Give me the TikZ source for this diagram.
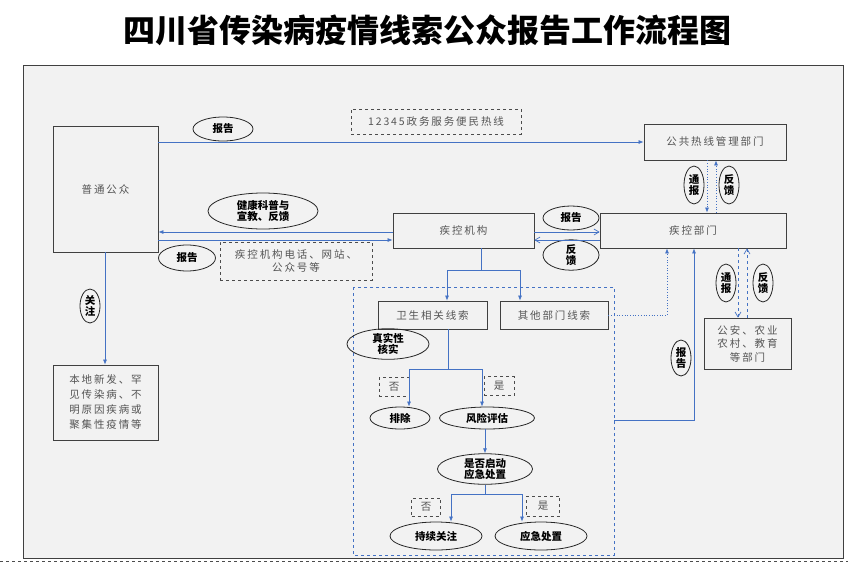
\documentclass[tikz,border=0pt]{standalone}
\usepackage{fontspec}
\setmainfont{Noto Sans CJK SC}
\newfontfamily\gapf{Noto Sans CJK SC}[LetterSpace=18]
\usetikzlibrary{arrows.meta}
\definecolor{bl}{HTML}{4472C4}
\definecolor{tx}{HTML}{555555}
\tikzset{
 box/.style={draw=black!75,line width=0.8pt,fill=none,font=\gapf\fontsize{10.5}{13.5}\selectfont,text=tx,align=center,inner sep=0},
 dbox/.style={draw=black!70,dashed,line width=0.7pt,font=\gapf\fontsize{10.5}{13.5}\selectfont,text=tx,align=center},
 el/.style={draw=black!85,ellipse,line width=0.8pt,font=\bfseries\fontsize{10.5}{11.5}\selectfont,align=center,inner sep=0},
 ar/.style={draw=bl,line width=0.7pt,-{Latex[length=5pt,width=4pt]}},
 ln/.style={draw=bl,line width=0.7pt},
 oar/.style={draw=bl,line width=0.7pt,-{Straight Barb[length=5pt,width=6pt]}},
}
\usetikzlibrary{shapes.geometric}
\begin{document}
\begin{tikzpicture}[x=1pt,y=-1pt]
\useasboundingbox (0,0) rectangle (848,563);
\fill[white] (0,0) rectangle (848,563);
\fill[black!5] (23,65) rectangle (843,558);
\draw[black!75,line width=1pt] (23,65) rectangle (843,558);
\node[font=\bfseries\fontsize{32}{34}\selectfont] (title) at (427,30) {四川省传染病疫情线索公众报告工作流程图};
\draw[black!70,dashed] (0,561) -- (848,561);
% boxes
\node[box,minimum width=105,minimum height=126] (pub) at (105.5,189) {普通公众};
\node[box,minimum width=142,minimum height=36] (hot) at (715,142) {公共热线管理部门};
\node[box,minimum width=141,minimum height=35] (jkj) at (463.5,230.5) {疾控机构};
\node[box,minimum width=186,minimum height=35] (jkb) at (693,230.5) {疾控部门};
\node[box,minimum width=109,minimum height=28] (ws) at (432.5,315) {卫生相关线索};
\node[box,minimum width=108,minimum height=28] (qt) at (554,315) {其他部门线索};
\node[box,minimum width=87,minimum height=51] (ga) at (747.5,343.5) {公安、农业\\农村、教育\\等部门};
\node[box,minimum width=105,minimum height=75,font=\gapf\fontsize{10.5}{15}\selectfont] (bd) at (105.5,402.5) {本地新发、罕\\见传染病、不\\明原因疾病或\\聚集性疫情等};
\draw[bl,dashed,line width=0.8pt] (353,287) rectangle (614,555);
\coordinate (dbr) at (614,420);
\node[dbox,minimum width=170,minimum height=25] (t12) at (436,121.5) {12345政务服务便民热线};
\node[dbox,minimum width=152,minimum height=38] (tel) at (296,261) {疾控机构电话、网站、\\公众号等};
% ellipses
\node[el,minimum width=60,minimum height=24] (e1) at (223,129) {报告};
\node[el,minimum width=110,minimum height=36] (e2) at (263,211) {健康科普与\\宣教、反馈};
\node[el,minimum width=57,minimum height=26] (e3) at (187,258) {报告};
\node[el,minimum width=20,minimum height=34] (e4) at (90,306) {关\\注};
\node[el,minimum width=20,minimum height=38] (e5) at (694,185) {通\\报};
\node[el,minimum width=20,minimum height=38] (e6) at (729,185) {反\\馈};
\node[el,minimum width=56,minimum height=24] (e7) at (571,218) {报告};
\node[el,minimum width=56,minimum height=26] (e8) at (571,255) {反\\馈};
\node[el,minimum width=20,minimum height=38] (e9) at (726,283) {通\\报};
\node[el,minimum width=20,minimum height=38] (e10) at (763,283) {反\\馈};
\node[el,minimum width=20,minimum height=36] (e11) at (681,358) {报\\告};
\node[el,minimum width=82,minimum height=28] (e12) at (388,344) {真实性\\核实};
\node[el,minimum width=60,minimum height=22] (pc) at (400,418) {排除};
\node[el,minimum width=95,minimum height=22] (fx) at (487,418) {风险评估};
\node[el,minimum width=95,minimum height=30] (sf) at (485,469) {是否启动\\应急处置};
\node[el,minimum width=92,minimum height=28] (cx) at (436,536) {持续关注};
\node[el,minimum width=92,minimum height=28] (yj) at (541,536) {应急处置};
\node[dbox,minimum width=30,minimum height=19,inner sep=0] (n1) at (394,387) {否};
\node[dbox,minimum width=30,minimum height=19,inner sep=0] (y1) at (499,386) {是};
\node[dbox,minimum width=29,minimum height=18,inner sep=0] (n2) at (426,507) {否};
\node[dbox,minimum width=33,minimum height=20,inner sep=0] (y2) at (543,506) {是};
% connectors
\draw[ar] (pub.east|-0,142) -- (hot.west|-0,142);
\draw[ar] (jkj.west|-0,232) -- (pub.east|-0,232);
\draw[ar] (pub.east|-0,240) -- (jkj.west|-0,240);
\draw[oar] (jkj.east|-0,232) -- (jkb.west|-0,232);
\draw[oar] (jkb.west|-0,240) -- (jkj.east|-0,240);
\draw[ar,dotted] (707,0|-hot.south) -- (707,0|-jkb.north);
\draw[ar,dotted] (716,0|-jkb.north) -- (716,0|-hot.south);
\draw[oar,dashed] (738,0|-jkb.south) -- (738,0|-ga.north);
\draw[oar,dashed] (747,0|-ga.north) -- (747,0|-jkb.south);
\draw[ln] (481,0|-jkj.south) -- (481,270);
\draw[ar] (447,270) -- (447,0|-ws.north);
\draw[ar] (520,270) -- (520,0|-qt.north);
\draw[ln] (447,270) -- (520,270);
\draw[ar,dotted] (qt.east) -- (667,315) -- (667,0|-jkb.south);
\draw[ar] (dbr) -- (694,420) -- (694,0|-jkb.south);
\draw[ln] (448,0|-ws.south) -- (448,369);
\draw[ln] (409,369) -- (482,369);
\draw[ar] (409,369) -- (409,0|-pc.north);
\draw[ar] (482,369) -- (482,0|-fx.north);
\draw[ar] (485,0|-fx.south) -- (sf.north);
\draw[ln] (485,0|-sf.south) -- (485,494);
\draw[ln] (451,494) -- (522,494);
\draw[ar] (451,494) -- (451,0|-cx.north);
\draw[ar] (522,494) -- (522,0|-yj.north);
\draw[ar] (105,0|-pub.south) -- (105,0|-bd.north);
\end{tikzpicture}
\end{document}
